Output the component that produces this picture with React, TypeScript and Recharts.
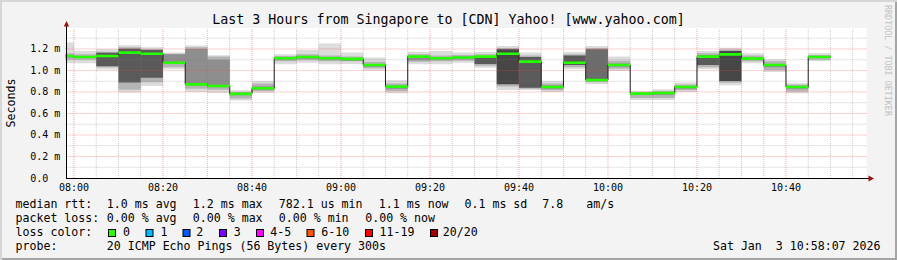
import React from "react";
import { ComposedChart, Area, Line, XAxis, YAxis, ReferenceLine, CartesianGrid } from "recharts";

const W = 897;
const H = 260;
const FONT = '"DejaVu Sans Mono", monospace';

// 5 minute buckets (start time), values in ms
const bucketStarts = [
  "07:55", "08:00", "08:05", "08:10", "08:15", "08:20", "08:25", "08:30", "08:35", "08:40",
  "08:45", "08:50", "08:55", "09:00", "09:05", "09:10", "09:15", "09:20", "09:25", "09:30",
  "09:35", "09:40", "09:45", "09:50", "09:55", "10:00", "10:05", "10:10", "10:15", "10:20",
  "10:25", "10:30", "10:35", "10:40", "10:45",
];
const median = [
  1.135, 1.126, 1.135, 1.166, 1.156, 1.072, 0.871, 0.856, 0.782, 0.834,
  1.113, 1.126, 1.113, 1.108, 1.051, 0.85, 1.129, 1.113, 1.12, 1.129,
  1.156, 1.082, 0.847, 1.072, 0.912, 1.051, 0.785, 0.79, 0.847, 1.129,
  1.15, 1.11, 1.051, 0.847, 1.126,
];
const outerLo = [
  1.07, 1.067, 1.01, 0.795, 0.856, 1.011, 0.8, 0.793, 0.72, 0.793,
  1.058, 1.072, 1.058, 1.06, 1.0, 0.788, 1.058, 1.058, 1.072, 1.026,
  0.819, 0.819, 0.8, 1.011, 0.871, 0.995, 0.726, 0.726, 0.8, 1.011,
  0.862, 1.067, 0.986, 0.788, 1.088,
];
const outerHi = [
  1.26, 1.18, 1.197, 1.234, 1.215, 1.166, 1.232, 1.141, 0.816, 0.902,
  1.15, 1.19, 1.25, 1.166, 1.12, 0.909, 1.172, 1.181, 1.166, 1.172,
  1.228, 1.166, 0.902, 1.172, 1.228, 1.129, 0.809, 0.825, 0.887, 1.181,
  1.212, 1.16, 1.104, 0.881, 1.16,
];
const midLo = [
  1.1, 1.1, 1.03, 0.82, 0.89, 1.03, 0.83, 0.82, 0.74, 0.81,
  1.085, 1.095, 1.085, 1.085, 1.02, 0.81, 1.08, 1.085, 1.09, 1.045,
  0.85, 0.83, 0.815, 1.03, 0.89, 1.015, 0.745, 0.745, 0.815, 1.03,
  0.885, 1.085, 1.005, 0.805, 1.1,
];
const midHi = [
  1.16, 1.15, 1.175, 1.215, 1.2, 1.155, 1.215, 1.13, 0.8, 0.88,
  1.135, 1.15, 1.14, 1.13, 1.08, 0.88, 1.15, 1.14, 1.145, 1.15,
  1.21, 1.14, 0.88, 1.15, 1.21, 1.09, 0.795, 0.81, 0.87, 1.16,
  1.195, 1.14, 1.085, 0.87, 1.145,
];
const coreLo = [
  1.12, 1.115, 1.04, 0.887, 0.933, 1.065, 0.86, 0.845, 0.77, 0.82,
  1.1, 1.11, 1.1, 1.09, 1.035, 0.83, 1.095, 1.1, 1.105, 1.06,
  0.871, 0.84, 0.83, 1.05, 0.905, 1.035, 0.772, 0.775, 0.83, 1.05,
  0.902, 1.1, 1.03, 0.83, 1.115,
];
const coreHi = [
  1.145, 1.135, 1.165, 1.203, 1.19, 1.15, 1.2, 1.1, 0.79, 0.85,
  1.12, 1.135, 1.12, 1.11, 1.06, 0.86, 1.135, 1.12, 1.13, 1.135,
  1.197, 1.125, 0.86, 1.14, 1.197, 1.065, 0.792, 0.8, 0.855, 1.14,
  1.181, 1.12, 1.06, 0.855, 1.135,
];
// how dark the inner smoke is in each bucket
const coreShade = [
  "g", "g", "m", "m", "m", "g", "g", "g", "g", "g",
  "g", "g", "g", "g", "g", "g", "g", "g", "g", "m",
  "d", "m", "g", "m", "i", "g", "g", "g", "g", "m",
  "d", "g", "g", "g", "g",
];
const shadeColor: Record<string, string> = { g: "#8e8e8e", i: "#6c6c6c", m: "#5a5a5a", d: "#464646" };

const xTickLabels = ["08:00", "08:20", "08:40", "09:00", "09:20", "09:40", "10:00", "10:20", "10:40"];
const yTicks = [0, 0.2, 0.4, 0.6, 0.8, 1.0, 1.2];

const lossLegend = [
  { label: "0", color: "#26ff00", box: 108, text: 123 },
  { label: "1", color: "#00b8ff", box: 145.5, text: 160.5 },
  { label: "2", color: "#0059ff", box: 182.5, text: 196.2 },
  { label: "3", color: "#7e00ff", box: 219, text: 233.8 },
  { label: "4-5", color: "#ff00ff", box: 256, text: 270.2 },
  { label: "6-10", color: "#ff5500", box: 306.5, text: 321.2 },
  { label: "11-19", color: "#ff0000", box: 365, text: 379.5 },
  { label: "20/20", color: "#a10000", box: 430, text: 442.8 },
];

const toMin = (s: string) => {
  const [h, m] = s.split(":").map(Number);
  return h * 60 + m - 480;
};
const T0 = -1 - 53 / 60; // 07:58:07
const T1 = T0 + 180;
const xTicks = xTickLabels.map(toMin);
const minorX = Array.from({ length: 36 }, (_, i) => i * 5).filter((m) => m % 20 !== 0);
const majorY = [0.2, 0.4, 0.6, 0.8, 1.0, 1.2];
const minorY = [0.1, 0.3, 0.5, 0.7, 0.9, 1.1, 1.3];

const rows = bucketStarts.flatMap((s, k) => {
  const t = toMin(s);
  const v: any = {
    outer: [outerLo[k], outerHi[k]],
    mid: [midLo[k], midHi[k]],
    median: median[k],
  };
  Object.keys(shadeColor).forEach((c) => {
    v[c] = coreShade[k] === c ? [coreLo[k], coreHi[k]] : null;
  });
  return [{ t, ...v }, { t: t + 5, ...v }];
});

const greenRows = bucketStarts.flatMap((s, k) => {
  const t = toMin(s);
  return [
    { t, g: median[k] },
    { t: t + 5, g: median[k] },
    { t: t + 5, g: null },
  ];
});

const yLabel = (v: number) => (v === 0 ? "0.0" : `${v.toFixed(1)} m`);

const YTick = (p: any) => (
  <text x={30.2} y={p.y} dy={3.5} fontSize={10} fontFamily={FONT} fill="#000" textAnchor="start">
    {yLabel(p.payload.value)}
  </text>
);

const MAJOR = "rgba(230,80,80,0.5)";
const MINOR = "rgba(128,128,128,0.4)";

export default function App() {
  return (
    <div
      style={{
        position: "absolute",
        left: 0,
        top: 0,
        width: W,
        height: H,
        background: "#f3f3f3",
        boxShadow: "inset 2px 2px 0 #d6d6d6, inset -2px -2px 0 #a5a5a5",
        fontFamily: FONT,
      }}
    >
      <div style={{ position: "absolute", left: 0, top: 0 }}>
        <ComposedChart width={W} height={H} data={rows} margin={{ top: 28, right: 30.4, bottom: 0, left: 0 }}>
          <CartesianGrid horizontal={false} vertical={false} fill="#ffffff" />
          <XAxis
            type="number"
            dataKey="t"
            domain={[T0, T1]}
            allowDataOverflow
            ticks={xTicks}
            interval={0}
            tickFormatter={(v: number) => xTickLabels[xTicks.indexOf(v)]}
            axisLine={false}
            tickLine={false}
            tickSize={6}
            tickMargin={0}
            height={82}
            tick={{ fill: "#000", fontSize: 10, fontFamily: FONT }}
          />
          <YAxis
            type="number"
            domain={[0, 1.395]}
            allowDataOverflow
            ticks={yTicks}
            interval={0}
            width={65.6}
            axisLine={false}
            tickLine={false}
            tick={<YTick />}
          />
          <Area dataKey="outer" type="linear" stroke="none" fill="#dcdcdc" fillOpacity={1} isAnimationActive={false} />
          <Area dataKey="mid" type="linear" stroke="none" fill="#b4b4b4" fillOpacity={1} isAnimationActive={false} />
          {Object.keys(shadeColor).map((c) => (
            <Area
              key={c}
              dataKey={c}
              type="linear"
              stroke="none"
              fill={shadeColor[c]}
              fillOpacity={1}
              isAnimationActive={false}
            />
          ))}
          {minorY.map((v) => (
            <ReferenceLine key={"hy" + v} y={v} stroke={MINOR} strokeDasharray="1 1" />
          ))}
          {majorY.map((v) => (
            <ReferenceLine key={"my" + v} y={v} stroke={MAJOR} strokeDasharray="1 1" />
          ))}
          {minorX.map((v) => (
            <ReferenceLine key={"hx" + v} x={v} stroke={MINOR} strokeDasharray="1 1" />
          ))}
          {xTicks.map((v) => (
            <ReferenceLine key={"mx" + v} x={v} stroke={MAJOR} strokeDasharray="1 1" />
          ))}
          <Line dataKey="median" type="linear" stroke="#202020" strokeWidth={1} dot={false} isAnimationActive={false} />
          <Line
            data={greenRows}
            dataKey="g"
            type="linear"
            stroke="#26ff00"
            strokeWidth={2.6}
            dot={false}
            connectNulls={false}
            isAnimationActive={false}
          />
        </ComposedChart>
      </div>
      <svg width={W} height={H} style={{ position: "absolute", left: 0, top: 0, pointerEvents: "none" }}>
        <text x={448.5} y={24} textAnchor="middle" fontSize={13.3} fontFamily={FONT} fill="#000">
          Last 3 Hours from Singapore to [CDN] Yahoo! [www.yahoo.com]
        </text>
        <text transform="translate(15,103) rotate(-90)" textAnchor="middle" fontSize={11.6} fontFamily={FONT} fill="#000">
          Seconds
        </text>
        <text transform="translate(884.5,5) rotate(90)" textAnchor="start" fontSize={8.4} fontFamily={FONT} fill="#c2c2c2">
          RRDTOOL / TOBI OETIKER
        </text>
        <line x1={66.5} y1={26} x2={66.5} y2={179} stroke="#000" strokeWidth={1} />
        <line x1={66} y1={178.5} x2={869} y2={178.5} stroke="#000" strokeWidth={1} />
        <polygon points="63.8,26.5 69.2,26.5 66.5,21" fill="#a01010" />
        <polygon points="868.5,175.5 868.5,181.5 874,178.5" fill="#a01010" />
        <g fontSize={11.6} fontFamily={FONT} fill="#000">
          <text x={15.5} y={208.3}>median rtt:</text>
          <text x={106.8} y={208.3}>1.0 ms avg</text>
          <text x={192.8} y={208.3}>1.2 ms max</text>
          <text x={278.8} y={208.3}>782.1 us min</text>
          <text x={378.8} y={208.3}>1.1 ms now</text>
          <text x={464.5} y={208.3}>0.1 ms sd</text>
          <text x={542.2} y={208.3}>7.8</text>
          <text x={586.2} y={208.3}>am/s</text>
          <text x={15.5} y={222.3}>packet loss:</text>
          <text x={106.8} y={222.3}>0.00 % avg</text>
          <text x={192.8} y={222.3}>0.00 % max</text>
          <text x={278.8} y={222.3}>0.00 % min</text>
          <text x={365.2} y={222.3}>0.00 % now</text>
          <text x={15.5} y={236.3}>loss color:</text>
          {lossLegend.map((l) => (
            <g key={l.label}>
              <rect x={l.box + 0.5} y={229.5} width={7} height={7} fill={l.color} stroke="#000" strokeWidth={1} />
              <text x={l.text} y={236.3}>{l.label}</text>
            </g>
          ))}
          <text x={15.5} y={250}>probe:</text>
          <text x={106.8} y={250}>20 ICMP Echo Pings (56 Bytes) every 300s</text>
          <text x={880.5} y={250} textAnchor="end" xmlSpace="preserve" style={{ whiteSpace: "pre" }}>
            {"Sat Jan  3 10:58:07 2026"}
          </text>
        </g>
      </svg>
    </div>
  );
}
